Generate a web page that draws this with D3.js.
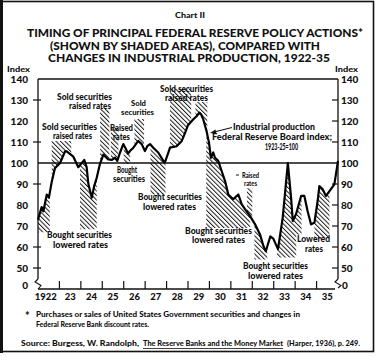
<!DOCTYPE html>
<html>
<head>
<meta charset="utf-8">
<script src="https://cdn.jsdelivr.net/npm/d3@7"></script>
<style>
  body { margin: 0; background: #fff; }
  svg text { font-family: Lato, "Noto Sans", sans-serif; font-weight: 900; fill: #111; }
</style>
</head>
<body>
<div id="chart"></div>
<script>
// industrial production index (decimal year, index)
const dates = [1922.00, 1922.17, 1922.25, 1922.41, 1922.51, 1922.64, 1922.79, 1923.03, 1923.26, 1923.34,
  1923.65, 1923.88, 1924.16, 1924.27, 1924.35, 1924.51, 1924.62, 1924.74, 1924.89, 1925.05,
  1925.28, 1925.45, 1925.59, 1925.70, 1925.83, 1925.98, 1926.11, 1926.20, 1926.29, 1926.45,
  1926.68, 1926.84, 1926.99, 1927.10, 1927.23, 1927.38, 1927.61, 1927.85, 1927.93, 1928.05,
  1928.16, 1928.47, 1928.71, 1928.85, 1929.00, 1929.25, 1929.41, 1929.53, 1929.61, 1929.71,
  1929.87, 1929.98, 1930.07, 1930.18, 1930.26, 1930.41, 1930.57, 1930.73, 1930.88, 1931.11,
  1931.27, 1931.35, 1931.51, 1931.66, 1931.89, 1932.13, 1932.36, 1932.52, 1932.63, 1932.84,
  1932.98, 1933.20, 1933.42, 1933.66, 1933.81, 1933.89, 1934.04, 1934.28, 1934.43, 1934.58,
  1934.74, 1934.90, 1935.05, 1935.13, 1935.28, 1935.44, 1935.67, 1935.83, 1936.00];
const production = [73, 79, 77, 85, 83.5, 91, 97.5, 100, 105.5, 105.5,
  103, 98, 101.5, 98, 90, 83.5, 89, 93, 99.5, 104,
  101.7, 101.5, 102.5, 101, 105, 109, 106.5, 104.5, 105.7, 107.3,
  110.5, 109, 105.7, 108, 109, 107.3, 105, 101, 100.5, 104,
  107.3, 108, 110.5, 114, 118, 120.8, 122.4, 124, 123.2, 120.8,
  115, 109.7, 102.5, 105, 102.5, 101, 96.2, 91.4, 85, 82.7,
  84.3, 85, 80.3, 78, 74.8, 70.8, 66, 60.5, 58, 65,
  64, 59, 74, 100, 83.5, 72.4, 75.6, 84.3, 84.3, 77.1,
  70.8, 71.6, 81.9, 89, 87.6, 84.3, 87.6, 89.8, 101];

// shaded policy actions: "sold" shades above the line, "bought" below it
const actionStart = [1922.00, 1922.64, 1923.96, 1924.90, 1925.40, 1926.00, 1926.50, 1927.25,
  1928.16, 1929.35, 1929.85, 1931.75, 1932.10, 1933.15, 1934.05, 1934.90];
const actionEnd = [1922.55, 1923.55, 1924.74, 1925.33, 1925.75, 1926.30, 1926.95, 1927.95,
  1929.15, 1929.90, 1931.90, 1932.00, 1932.70, 1934.05, 1934.30, 1935.60];
const actionKind = ["bought", "sold", "bought", "sold", "sold", "bought", "sold", "bought",
  "sold", "sold", "bought", "sold", "bought", "bought", "bought", "bought"];
const actionLimit = [67, 110.5, 68.5, 126, 117, 99.5, 121, 85,
  135.5, 129, 69, 88, 54, 55, 66, 64];

const yearLabels = ["1922", "23", "24", "25", "26", "27", "28", "29", "30", "31", "32", "33", "34", "35"];
const indexTicks = [140, 130, 120, 110, 100, 90, 80, 70, 60, 50];
const leftTickMarks = [130, 110, 90, 60, 50];
const rightTickMarks = [130, 120, 110, 90, 80, 70, 60, 50];

const width = 377, height = 361;

let svg = d3.select("#chart").append("svg")
  .attr("width", width)
  .attr("height", height);

svg.append("rect").attr("width", width).attr("height", height).attr("fill", "#fff");

let x = d3.scaleLinear().domain([1922, 1936]).range([38, 338]);
let y = d3.scaleLinear().domain([50, 140]).range([268, 79]);
const axisY = 289;

function addText(str, left, base, size, len) {
  let t = svg.append("text")
    .attr("x", left)
    .attr("y", base)
    .style("font-size", size + "px")
    .text(str);
  if (len) t.attr("textLength", len).attr("lengthAdjust", "spacingAndGlyphs");
  return t;
}

// hatch pattern
svg.append("defs").append("pattern")
  .attr("id", "hatch")
  .attr("patternUnits", "userSpaceOnUse")
  .attr("width", 3.2)
  .attr("height", 3.2)
  .attr("patternTransform", "rotate(-45)")
  .append("line")
  .attr("x1", 0.5).attr("y1", 0)
  .attr("x2", 0.5).attr("y2", 3.2)
  .attr("stroke", "#111")
  .attr("stroke-width", 0.95);

// outer frame
svg.append("rect")
  .attr("x", 1.5).attr("y", 1.5)
  .attr("width", 372).attr("height", 350)
  .attr("fill", "none").attr("stroke", "#111").attr("stroke-width", 1.6);
svg.append("line").attr("x1", 1.5).attr("x2", 1.5).attr("y1", 0).attr("y2", 353)
  .attr("stroke", "#111").attr("stroke-width", 3);

// titles
addText("Chart II", 175, 18, 8, 30);
addText("TIMING OF PRINCIPAL FEDERAL RESERVE POLICY ACTIONS*", 27, 37, 11.5, 336);
addText("(SHOWN BY SHADED AREAS), COMPARED WITH", 50, 49.5, 11.5, 270);
addText("CHANGES IN INDUSTRIAL PRODUCTION, 1922-35", 48, 62, 11.5, 282);
addText("Index", 7, 71.5, 7.5, 23);
addText("Index", 335, 71.5, 7.5, 23);

// shaded bands
function valueAt(t) {
  let i = d3.bisectLeft(dates, t);
  if (i <= 0) return production[0];
  if (i >= dates.length) return production[production.length - 1];
  let f = (t - dates[i - 1]) / (dates[i] - dates[i - 1]);
  return production[i - 1] + f * (production[i] - production[i - 1]);
}

actionStart.forEach((t0, i) => {
  let t1 = actionEnd[i];
  let pts = [[t0, valueAt(t0)]];
  dates.forEach((d, j) => { if (d > t0 && d < t1) pts.push([d, production[j]]); });
  pts.push([t1, valueAt(t1)]);
  let area = d3.area()
    .x(d => x(d[0]))
    .y0(y(actionLimit[i]))
    .y1(d => y(d[1]));
  svg.append("path")
    .attr("class", "action " + actionKind[i])
    .attr("d", area(pts))
    .attr("fill", "url(#hatch)");
});

// plot frame and axes
const stroke = "#111";
svg.append("line").attr("x1", 38).attr("x2", 338).attr("y1", y(140)).attr("y2", y(140))
  .attr("stroke", stroke).attr("stroke-width", 1.3);
svg.append("line").attr("x1", 38).attr("x2", 38).attr("y1", y(140)).attr("y2", 279)
  .attr("stroke", stroke).attr("stroke-width", 1.3);
svg.append("line").attr("x1", 338).attr("x2", 338).attr("y1", y(140)).attr("y2", 279)
  .attr("stroke", stroke).attr("stroke-width", 1.3);
svg.append("path").attr("d", "M38,279 L35,282 L41,285.5 L38,289")
  .attr("fill", "none").attr("stroke", stroke).attr("stroke-width", 1.1);
svg.append("path").attr("d", "M338,279 L335,282 L341,285.5 L338,288")
  .attr("fill", "none").attr("stroke", stroke).attr("stroke-width", 1.1);
svg.append("line").attr("x1", 38).attr("x2", 335).attr("y1", axisY).attr("y2", axisY)
  .attr("stroke", stroke).attr("stroke-width", 1.3);

// reference line at 100
svg.append("line").attr("x1", 38).attr("x2", 338).attr("y1", y(100)).attr("y2", y(100))
  .attr("stroke", stroke).attr("stroke-width", 1.4);

// y tick marks and labels
svg.selectAll(".ltick").data(leftTickMarks).enter().append("line")
  .attr("x1", 33).attr("x2", 41)
  .attr("y1", d => y(d)).attr("y2", d => y(d))
  .attr("stroke", stroke).attr("stroke-width", 1.2);
svg.selectAll(".rtick").data(rightTickMarks).enter().append("line")
  .attr("x1", 332).attr("x2", 338)
  .attr("y1", d => y(d)).attr("y2", d => y(d))
  .attr("stroke", stroke).attr("stroke-width", 1.2);

svg.selectAll(".llabel").data(indexTicks).enter().append("text")
  .attr("x", 28).attr("y", d => y(d) + 3.8)
  .attr("text-anchor", "end")
  .style("font-size", "10px")
  .text(d => d);
svg.selectAll(".rlabel").data(indexTicks).enter().append("text")
  .attr("x", 341).attr("y", d => y(d) + 3.8)
  .style("font-size", "10px")
  .text(d => d);
addText("0", 28, 289, 10).attr("text-anchor", "end");
addText("0", 342, 289, 10);

// x ticks and year labels
svg.selectAll(".xtick").data(d3.range(1923, 1936)).enter().append("line")
  .attr("x1", d => x(d)).attr("x2", d => x(d))
  .attr("y1", 281).attr("y2", axisY)
  .attr("stroke", stroke).attr("stroke-width", 1.2);
svg.selectAll(".year").data(yearLabels).enter().append("text")
  .attr("x", (d, i) => x(1922.5 + i) - (i === 0 ? 3 : 0))
  .attr("y", 300)
  .attr("text-anchor", "middle")
  .style("font-size", "9.5px")
  .text(d => d);

// production line
let line = d3.line()
  .x((d, i) => x(dates[i]))
  .y(d => y(d));
svg.append("path")
  .attr("d", line(production))
  .attr("fill", "none")
  .attr("stroke", "#000")
  .attr("stroke-width", 2.2)
  .attr("stroke-linejoin", "round");

// annotations
addText("Sold securities", 42, 130, 8.5, 55);
addText("raised rates", 53, 139, 8.5, 39);
addText("Sold securities", 57, 100, 8.5, 55);
addText("raised rates", 69, 108.5, 8.5, 42);
addText("Raised", 110, 131, 8.5, 23);
addText("rates", 113, 139.5, 8.5, 17);
addText("Sold", 131, 105.5, 8, 15);
addText("securities", 121, 114.5, 8, 33);
addText("Sold securities", 160, 92, 8.5, 53);
addText("raised rates", 165, 101, 8.5, 43);
addText("Bought", 117, 173, 8.5, 20);
addText("securities", 113, 182, 8.5, 32);
addText("Bought securities", 138, 200, 8.5, 64);
addText("lowered rates", 143, 210, 8.5, 53);
addText("Bought securities", 47, 238, 8.5, 65);
addText("lowered rates", 53, 247.5, 8.5, 55);
addText("Industrial production", 233, 130, 8.5, 82);
addText("Federal Reserve Board index;", 212, 140, 8.5, 120);
addText("1923-25=100", 265, 150, 8.5, 33);
addText("Raised", 242, 177.5, 7.5, 17);
addText("rates", 244, 185.5, 7.5, 13);
addText("Bought securities", 185, 234, 8.5, 67);
addText("lowered rates", 192, 243, 8.5, 53);
addText("Bought securities", 243, 269, 8.5, 65);
addText("lowered rates", 248, 278.5, 8.5, 55);
addText("Lowered", 297, 242, 8.5, 33);
addText("rates", 305, 252, 8.5, 18);

svg.append("line").attr("x1", 236).attr("x2", 239).attr("y1", 175).attr("y2", 175)
  .attr("stroke", stroke).attr("stroke-width", 1);

// pointer to the production line
svg.append("line").attr("x1", 232).attr("y1", 127.5).attr("x2", 214).attr("y2", 132)
  .attr("stroke", stroke).attr("stroke-width", 1.1);
svg.append("path").attr("d", "M210,133 L215.5,129.5 L216.5,134 Z").attr("fill", stroke);

// footnotes
addText("*", 25, 320, 11);
addText("Purchases or sales of United States Government securities and changes in", 36, 317, 7.5, 264);
addText("Federal Reserve Bank discount rates.", 36, 327, 7.5, 113);
addText("Source:  Burgess, W. Randolph,", 21, 346, 7.5, 118);
addText("The Reserve Banks and the Money Market", 143, 346, 7.5, 140);
addText("(Harper, 1936), p. 249.", 287, 346, 7.5, 73);
svg.append("line").attr("x1", 143).attr("x2", 283).attr("y1", 348.5).attr("y2", 348.5)
  .attr("stroke", stroke).attr("stroke-width", 0.8);
</script>
</body>
</html>
